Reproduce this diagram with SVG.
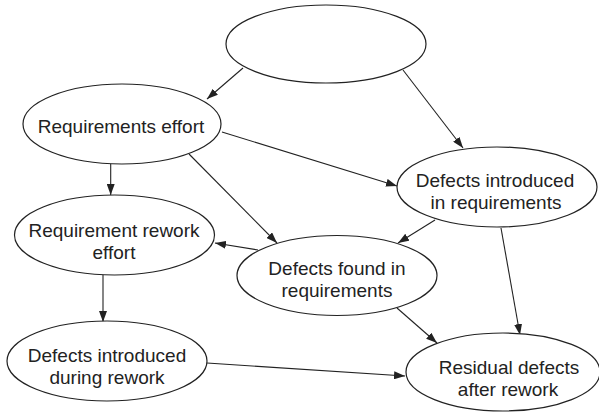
<svg xmlns="http://www.w3.org/2000/svg" width="599" height="412" viewBox="0 0 599 412">
<style>
.n ellipse{fill:#fff;stroke:#222;stroke-width:1.2}
.n text{font-family:"Liberation Sans",Arial,sans-serif;font-size:19px;fill:#222;text-anchor:middle}
.e line{stroke:#222;stroke-width:1.1;marker-end:url(#ah)}
</style>
<defs>
<marker id="ah" markerUnits="userSpaceOnUse" markerWidth="11" markerHeight="8" refX="11" refY="4" orient="auto">
<path d="M0,0 L11,4 L0,8 z" fill="#222"/>
</marker>
</defs>
<rect width="599" height="412" fill="#fff"/>
<g id="connectors" class="e">
<line x1="243" y1="68" x2="207" y2="99"/>
<line x1="403" y1="70" x2="463" y2="148"/>
<line x1="222" y1="132" x2="397" y2="186"/>
<line x1="189" y1="154" x2="277" y2="243"/>
<line x1="110.7" y1="164" x2="110.7" y2="195"/>
<line x1="435" y1="220" x2="398" y2="243"/>
<line x1="258" y1="250" x2="215" y2="243"/>
<line x1="501" y1="228" x2="520" y2="335"/>
<line x1="397" y1="308" x2="437" y2="343"/>
<line x1="103" y1="275" x2="103" y2="322"/>
<line x1="207" y1="363" x2="405" y2="376"/>
</g>
<g id="top" class="n"><ellipse cx="326" cy="44" rx="100" ry="39"/></g>
<g id="req-effort" class="n"><ellipse cx="122" cy="124" rx="99" ry="40"/><text x="121" y="133">Requirements effort</text></g>
<g id="def-intro-req" class="n"><ellipse cx="497" cy="187" rx="100" ry="40"/><text x="495" y="187">Defects introduced</text><text x="496" y="209">in requirements</text></g>
<g id="req-rework" class="n"><ellipse cx="114.5" cy="235" rx="100" ry="40"/><text x="114" y="237">Requirement rework</text><text x="114" y="259">effort</text></g>
<g id="def-found" class="n"><ellipse cx="337" cy="275.5" rx="100" ry="40"/><text x="337" y="275">Defects found in</text><text x="337" y="297">requirements</text></g>
<g id="def-intro-rework" class="n"><ellipse cx="107" cy="361" rx="100" ry="40"/><text x="107" y="362">Defects introduced</text><text x="107" y="384">during rework</text></g>
<g id="residual" class="n"><ellipse cx="503" cy="372" rx="97" ry="39"/><text x="509" y="374">Residual defects</text><text x="508" y="396">after rework</text></g>
</svg>
